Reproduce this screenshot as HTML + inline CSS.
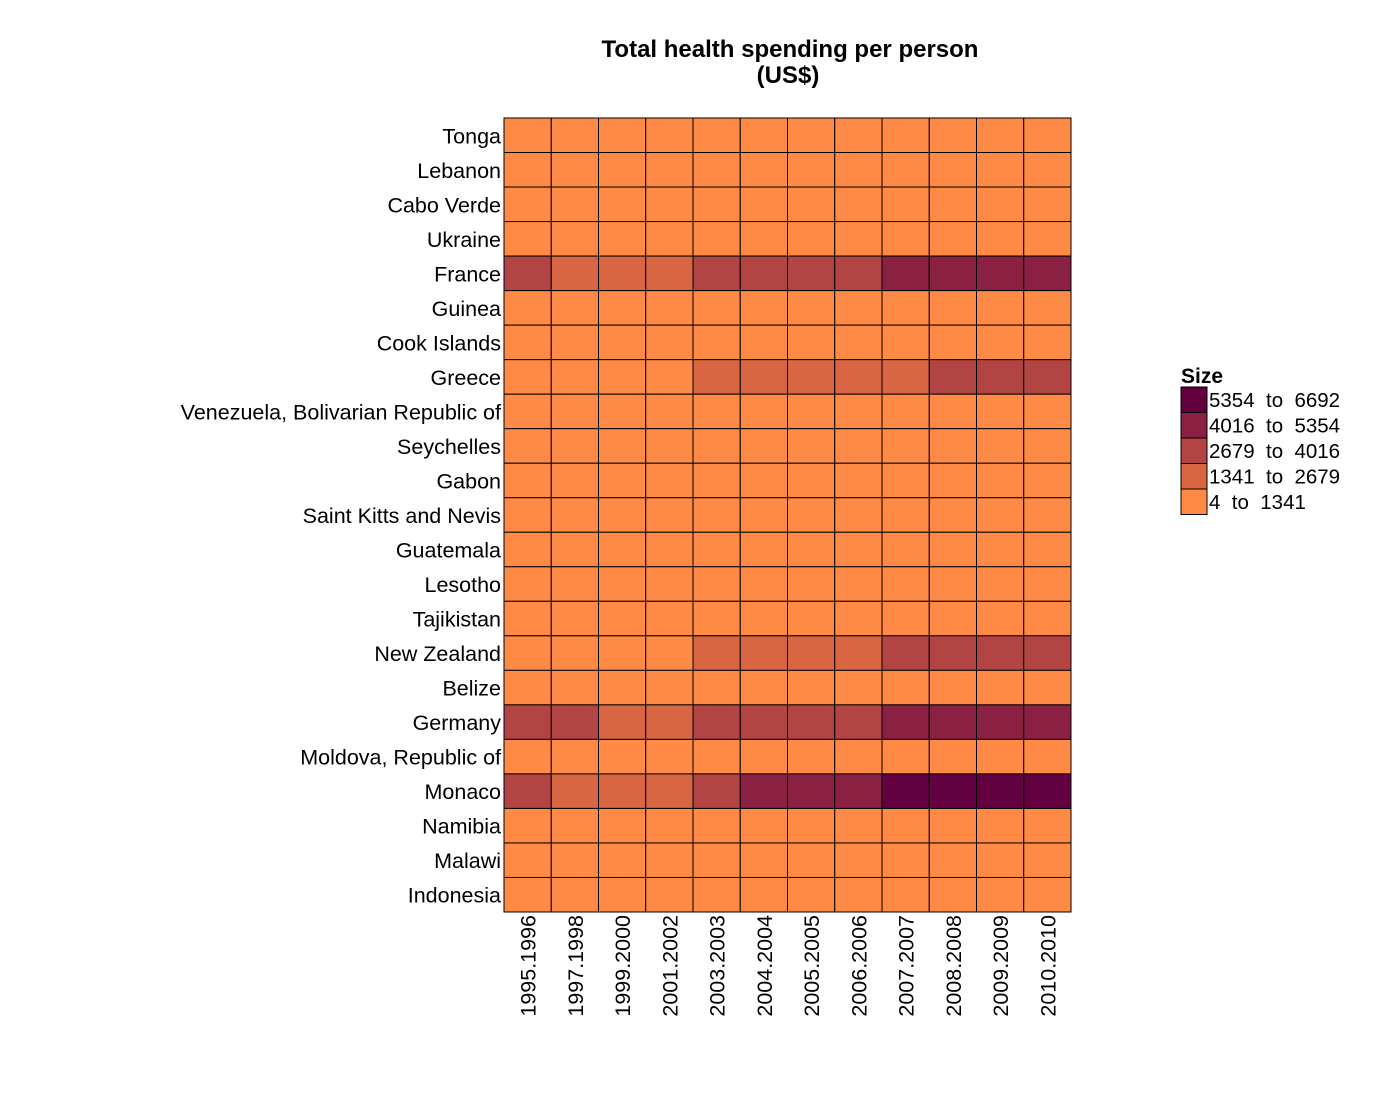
<!DOCTYPE html>
<html><head><meta charset="utf-8"><style>
body{margin:0;background:#fff;font-family:"Liberation Sans",Arial,sans-serif}
</style></head><body>
<svg id="c" width="1400" height="1100" xmlns="http://www.w3.org/2000/svg" font-family="Liberation Sans, Arial, sans-serif">
<text x="790" y="57" text-anchor="middle" font-size="24" font-weight="bold">Total health spending per person</text>
<text x="788" y="83" text-anchor="middle" font-size="24" font-weight="bold">(US$)</text>
<g id="cells"></g><g id="ylab"></g><g id="xlab"></g><g id="legend"></g>
</svg>
<script>
const countries=["Tonga","Lebanon","Cabo Verde","Ukraine","France","Guinea","Cook Islands","Greece","Venezuela, Bolivarian Republic of","Seychelles","Gabon","Saint Kitts and Nevis","Guatemala","Lesotho","Tajikistan","New Zealand","Belize","Germany","Moldova, Republic of","Monaco","Namibia","Malawi","Indonesia"];
const years=["1995.1996","1997.1998","1999.2000","2001.2002","2003.2003","2004.2004","2005.2005","2006.2006","2007.2007","2008.2008","2009.2009","2010.2010"];
const low=[300,300,300,300,300,300,300,300,300,300,300,300];
const franceVals=[2800,2400,2300,2300,3000,3300,3400,3700,4200,4600,4500,4700];
const greeceVals=[1000,1100,1200,1300,1700,1800,2000,2200,2500,2800,2900,2800];
const nzVals=[1200,1200,1100,1100,1600,1900,2200,2500,2800,3000,2900,3300];
const germanyVals=[2900,2700,2500,2500,3200,3500,3500,3600,4100,4500,4300,4600];
const monacoVals=[2800,2500,2400,2500,3300,4100,4300,4600,5800,6200,6400,6600];
const specialRows={"France":franceVals,"Greece":greeceVals,"New Zealand":nzVals,"Germany":germanyVals,"Monaco":monacoVals};
const breaks=[4,1341,2679,4016,5354,6692];
const colors=["#FF8A46","#D96643","#B34444","#8A2142","#620040"];
const legendLabels=["4  to  1341","1341  to  2679","2679  to  4016","4016  to  5354","5354  to  6692"];

const NS="http://www.w3.org/2000/svg";
const X0=504,X1=1071,Y0=118,Y1=912;
const cw=(X1-X0)/years.length, ch=(Y1-Y0)/countries.length;
function xPos(i){return X0+i*cw}
function yPos(j){return Y0+j*ch}
function bin(v){for(let k=0;k<5;k++){if(v<=breaks[k+1])return k}return 4}
function mk(t,a,p){const e=document.createElementNS(NS,t);for(const k in a)e.setAttribute(k,a[k]);p.appendChild(e);return e}
const gc=document.getElementById('cells'),gy=document.getElementById('ylab'),gx=document.getElementById('xlab'),gl=document.getElementById('legend');
countries.forEach((c,j)=>{
  const vals=specialRows[c]||low;
  vals.forEach((v,i)=>{
    const r=mk('rect',{x:xPos(i),y:yPos(j),width:cw,height:ch,fill:colors[bin(v)],stroke:'#000','stroke-width':1},gc);
    
    
  });
  const t=mk('text',{x:501,y:yPos(j)+ch/2+8,'text-anchor':'end','font-size':21.5},gy);
  t.textContent=c;
  
  
});
years.forEach((y,i)=>{
  const cx=xPos(i)+cw/2+8;
  const t=mk('text',{x:cx,y:915,'text-anchor':'end','font-size':21.5,transform:'rotate(-90 '+cx+' 915)'},gx);
  t.textContent=y;
  
  
});
const lt=mk('text',{x:1181,y:383,'font-size':21,'font-weight':'bold'},gl);
lt.textContent="Size";


for(let k=4;k>=0;k--){
  const row=4-k, yy=387+row*25.5;
  const r=mk('rect',{x:1181,y:yy,width:26,height:25.5,fill:colors[k],stroke:'#000','stroke-width':1},gl);
  
  
  const t=mk('text',{x:1209,y:yy+20,'font-size':20.5},gl);
  t.setAttribute('style','white-space:pre');
  t.textContent=legendLabels[k];
  
  
}
</script>
</body></html>
